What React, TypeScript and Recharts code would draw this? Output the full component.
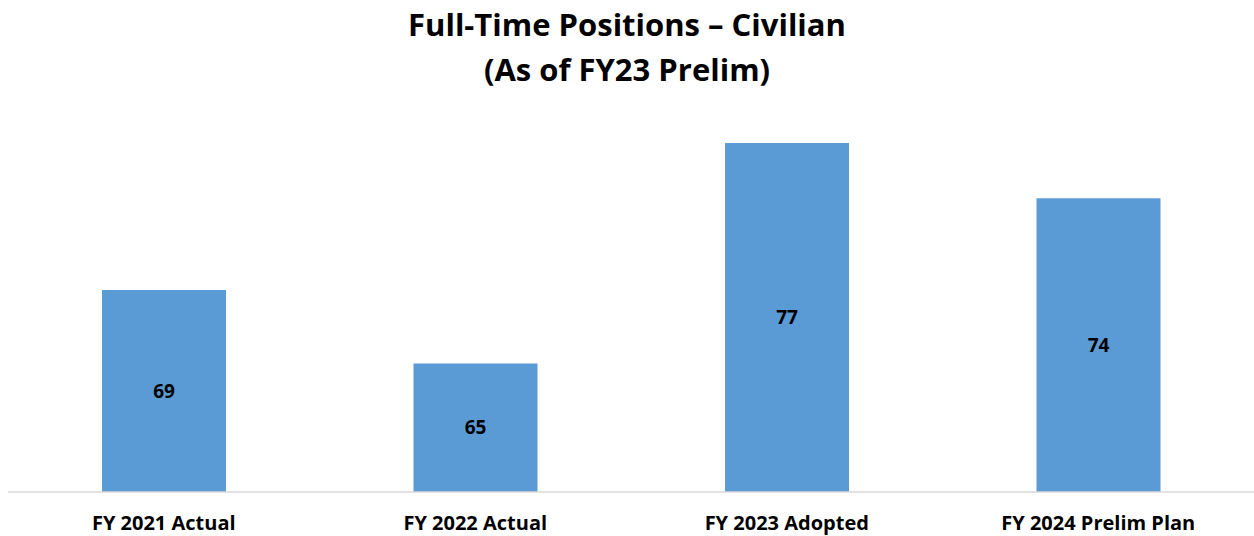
import { BarChart, Bar, XAxis, YAxis, LabelList } from 'recharts';

const categories = ['FY 2021 Actual', 'FY 2022 Actual', 'FY 2023 Adopted', 'FY 2024 Prelim Plan'];
const positions = [69, 65, 77, 74];

const data = categories.map((name, i) => ({ name, value: positions[i] }));

const font = '"Open Sans", Calibri, sans-serif';

export default function App() {
  return (
    <div style={{ position: 'absolute', left: 0, top: 0, width: 1254, height: 536, background: '#fff', fontFamily: font }}>
      <div
        style={{
          position: 'absolute',
          top: 2,
          left: 0,
          width: 1254,
          textAlign: 'center',
          fontWeight: 700,
          fontSize: 31,
          lineHeight: '45px',
          color: '#000',
        }}
      >
        Full-Time Positions – Civilian
        <br />
        (As of FY23 Prelim)
      </div>
      <BarChart
        width={1254}
        height={536}
        data={data}
        margin={{ top: 88, right: 0, bottom: 0, left: 8 }}
      >
        <XAxis
          dataKey="name"
          height={44}
          tickLine={false}
          tickSize={0}
          tickMargin={24}
          axisLine={{ stroke: '#d9d9d9', strokeWidth: 1.5 }}
          tick={{ fill: '#000', fontSize: 20, fontWeight: 700, fontFamily: font }}
          interval={0}
        />
        <YAxis hide domain={[58, 80]} allowDataOverflow />
        <Bar dataKey="value" fill="#5b9bd5" barSize={124} isAnimationActive={false}>
          <LabelList
            dataKey="value"
            position="center"
            fill="#000"
            style={{ fontSize: 19, fontWeight: 700, fontFamily: font }}
          />
        </Bar>
      </BarChart>
    </div>
  );
}
